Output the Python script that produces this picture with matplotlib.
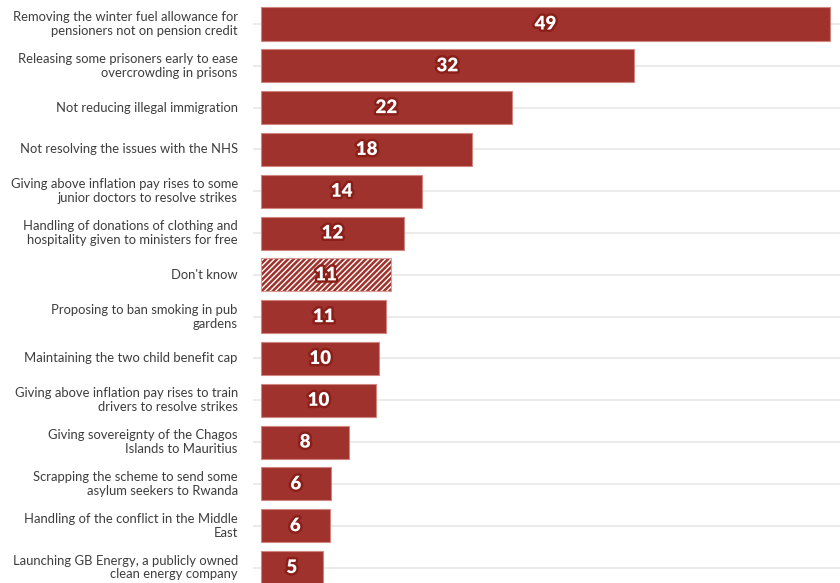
import matplotlib
matplotlib.use("Agg")
import matplotlib.pyplot as plt
import matplotlib.patheffects as pe

categories = [
    "Removing the winter fuel allowance for\npensioners not on pension credit",
    "Releasing some prisoners early to ease\novercrowding in prisons",
    "Not reducing illegal immigration",
    "Not resolving the issues with the NHS",
    "Giving above inflation pay rises to some\njunior doctors to resolve strikes",
    "Handling of donations of clothing and\nhospitality given to ministers for free",
    "Don't know",
    "Proposing to ban smoking in pub\ngardens",
    "Maintaining the two child benefit cap",
    "Giving above inflation pay rises to train\ndrivers to resolve strikes",
    "Giving sovereignty of the Chagos\nIslands to Mauritius",
    "Scrapping the scheme to send some\nasylum seekers to Rwanda",
    "Handling of the conflict in the Middle\nEast",
    "Launching GB Energy, a publicly owned\nclean energy company",
]
# bar lengths (labels show rounded values)
values = [49.0, 32.1, 21.6, 18.2, 13.9, 12.3, 11.2, 10.8, 10.2, 9.9, 7.6, 6.0, 5.9, 5.3]
labels = ["49", "32", "22", "18", "14", "12", "11", "11", "10", "10", "8", "6", "6", "5"]
hatched = ["Don't know"]

RED = "#9f322c"
fig = plt.figure(figsize=(8.4, 5.83), dpi=100)
ax = fig.add_axes([253 / 840, 0, 1 - 253 / 840, 1])
ax.set_xlim(-0.69, 49.87)
ax.set_ylim(13.37, -0.574)

ys = list(range(len(categories)))
for y in ys:
    ax.axhline(y, color="#ebebeb", lw=1.5, zorder=0)

for y, cat, v, lab in zip(ys, categories, values, labels):
    if cat in hatched:
        ax.barh(y, v, height=0.79, color=RED, edgecolor="white", hatch="//////", lw=0, zorder=2)
        ax.barh(y, v, height=0.79, fill=False, edgecolor="#d99a95", lw=0.8, zorder=3)
    else:
        ax.barh(y, v, height=0.79, color=RED, edgecolor="#d0857f", lw=0.8, zorder=2)
    ax.text(v / 2, y, lab, ha="center", va="center", color="white",
            fontsize=13.5, fontweight="heavy", family="Lato", zorder=4,
            path_effects=[pe.withStroke(linewidth=3.5, foreground="#8a1f1a")])
    ax.text(-2.0, y, cat, ha="right", va="center", fontsize=9.4, family="Lato",
            color="#3d3d3d", linespacing=1.18, transform=ax.transData, clip_on=False)

ax.axis("off")
fig.savefig("out.png", dpi=100)
